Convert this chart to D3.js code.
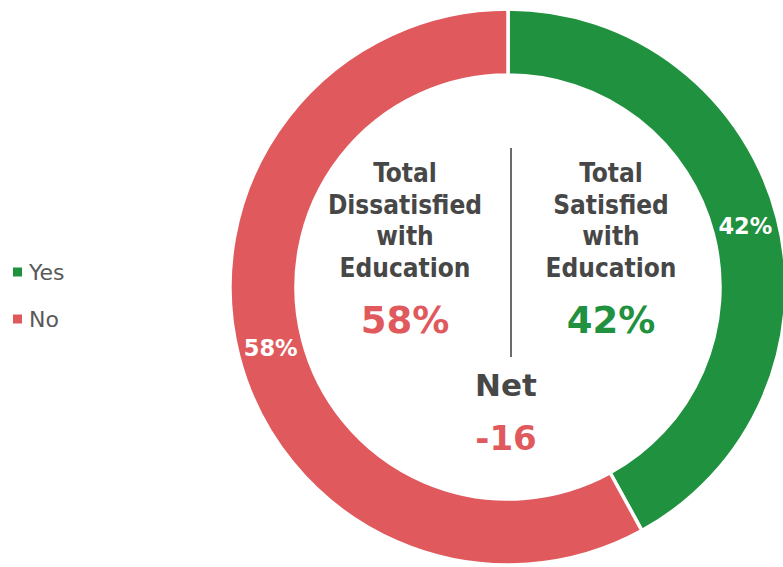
<!DOCTYPE html>
<html>
<head>
<meta charset="utf-8">
<script src="https://cdn.jsdelivr.net/npm/d3@7"></script>
<style>
  html, body { margin: 0; padding: 0; background: #fff; }
  svg { display: block; }
</style>
</head>
<body>
<svg id="chart" width="783" height="567"></svg>
<script>
// Survey answers: satisfied with education?
const categories = ["Yes", "No"];
const values = [42, 58];
const colors = ["#1f913f", "#e05a5d"];

// Centre annotation text
const leftTitle = ["Total", "Dissatisfied", "with", "Education"];
const rightTitle = ["Total", "Satisfied", "with", "Education"];
const netLabel = "Net";

const W = 783, H = 567;
const cx = 508, cy = 287;
const outerR = 278, innerR = 212;
const boldFont = "'DejaVu Sans Condensed', 'DejaVu Sans', Verdana, sans-serif";
const textColor = "#474747";

const svg = d3.select("#chart");

const pie = d3.pie().sort(null).value(d => d.value);
const arcs = pie(categories.map((c, i) => ({ cat: c, value: values[i], color: colors[i] })));
const arc = d3.arc().innerRadius(innerR).outerRadius(outerR);
const labelArc = d3.arc().innerRadius((innerR + outerR) / 2).outerRadius((innerR + outerR) / 2);

const g = svg.append("g").attr("transform", `translate(${cx},${cy})`);

g.selectAll("path.slice")
  .data(arcs)
  .join("path")
  .attr("class", "slice")
  .attr("d", arc)
  .attr("fill", d => d.data.color)
  .attr("stroke", "#fff")
  .attr("stroke-width", 3.5);

g.selectAll("text.pct")
  .data(arcs)
  .join("text")
  .attr("class", "pct")
  .attr("transform", d => `translate(${labelArc.centroid(d)})`)
  .attr("text-anchor", "middle")
  .attr("dy", "0.36em")
  .attr("fill", "#fff")
  .style("font-family", "'DejaVu Sans', Verdana, sans-serif")
  .style("font-weight", "bold")
  .style("font-size", "22.5px")
  .text(d => d.data.value + "%");

// Divider between the two totals
svg.append("line")
  .attr("x1", 511).attr("x2", 511)
  .attr("y1", 148).attr("y2", 357)
  .attr("stroke", "#6b6b6b")
  .attr("stroke-width", 2);

function titleBlock(lines, x) {
  const t = svg.append("text")
    .attr("text-anchor", "middle")
    .attr("fill", textColor)
    .style("font-family", boldFont)
    .style("font-stretch", "condensed")
    .style("font-weight", "bold")
    .style("font-size", "26px");
  lines.forEach((l, i) => {
    t.append("tspan").attr("x", x).attr("y", 182 + i * 31.7).text(l);
  });
}
titleBlock(leftTitle, 405);
titleBlock(rightTitle, 611);

const noIdx = categories.indexOf("No"), yesIdx = categories.indexOf("Yes");

svg.append("text")
  .attr("x", 405).attr("y", 333)
  .attr("text-anchor", "middle")
  .attr("fill", colors[noIdx])
  .style("font-family", "'DejaVu Sans', Verdana, sans-serif")
  .style("font-weight", "bold")
  .style("font-size", "37px")
  .text(values[noIdx] + "%");

svg.append("text")
  .attr("x", 611).attr("y", 333)
  .attr("text-anchor", "middle")
  .attr("fill", colors[yesIdx])
  .style("font-family", "'DejaVu Sans', Verdana, sans-serif")
  .style("font-weight", "bold")
  .style("font-size", "37px")
  .text(values[yesIdx] + "%");

svg.append("text")
  .attr("x", 506).attr("y", 396)
  .attr("text-anchor", "middle")
  .attr("fill", textColor)
  .style("font-family", "'DejaVu Sans', Verdana, sans-serif")
  .style("font-weight", "bold")
  .style("font-size", "31px")
  .text(netLabel);

const net = values[yesIdx] - values[noIdx];
svg.append("text")
  .attr("x", 506).attr("y", 450)
  .attr("text-anchor", "middle")
  .attr("fill", net < 0 ? colors[noIdx] : colors[yesIdx])
  .style("font-family", "'DejaVu Sans', Verdana, sans-serif")
  .style("font-weight", "bold")
  .style("font-size", "34px")
  .text(net);

// Legend
const legend = svg.append("g");
const items = legend.selectAll("g")
  .data(categories)
  .join("g")
  .attr("transform", (d, i) => `translate(13, ${272 + i * 47})`);
items.append("rect")
  .attr("x", 0).attr("y", -4.5)
  .attr("width", 9).attr("height", 9)
  .attr("fill", (d, i) => colors[i]);
items.append("text")
  .attr("x", 16).attr("dy", "0.36em")
  .attr("fill", "#595959")
  .style("font-family", "'DejaVu Sans', Verdana, sans-serif")
  .style("font-size", "22px")
  .text(d => d);
</script>
</body>
</html>
